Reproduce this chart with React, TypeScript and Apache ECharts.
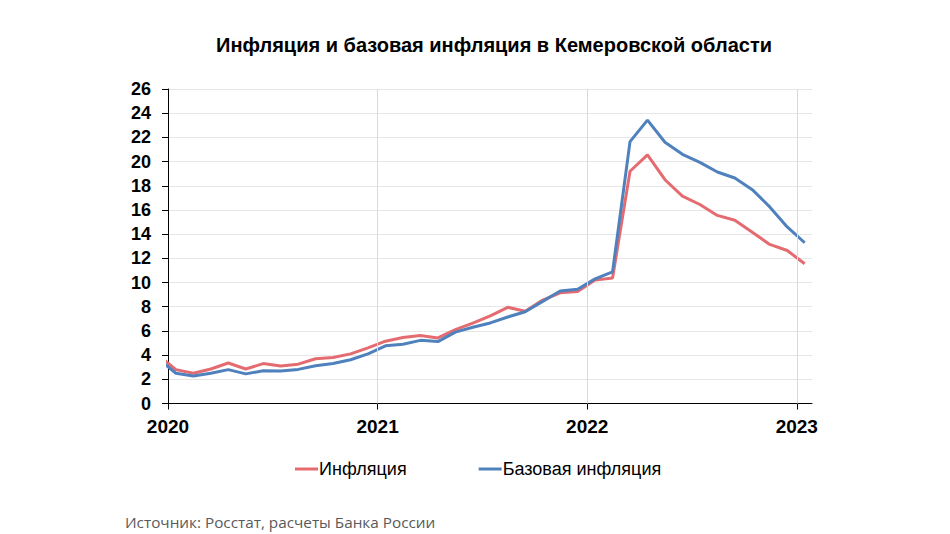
import React, { useEffect, useRef } from "react";
import * as echarts from "echarts";

// Monthly observations (year-month). Dec 2019 lies before the axis start and is clipped.
const months = [
  "2019-12",
  "2020-01", "2020-02", "2020-03", "2020-04", "2020-05", "2020-06",
  "2020-07", "2020-08", "2020-09", "2020-10", "2020-11", "2020-12",
  "2021-01", "2021-02", "2021-03", "2021-04", "2021-05", "2021-06",
  "2021-07", "2021-08", "2021-09", "2021-10", "2021-11", "2021-12",
  "2022-01", "2022-02", "2022-03", "2022-04", "2022-05", "2022-06",
  "2022-07", "2022-08", "2022-09", "2022-10", "2022-11", "2022-12",
  "2023-01",
];

const inflation = [
  4.0,
  2.8, 2.5, 2.85, 3.35, 2.85, 3.3, 3.1, 3.25, 3.7, 3.8, 4.1, 4.6,
  5.15, 5.45, 5.62, 5.42, 6.1, 6.65, 7.25, 7.95, 7.62, 8.55, 9.15, 9.25,
  10.2, 10.38, 19.2, 20.55, 18.5, 17.15, 16.45, 15.55, 15.15, 14.15, 13.15, 12.65,
  11.55,
];

const coreInflation = [
  3.7,
  2.5, 2.27, 2.5, 2.8, 2.45, 2.7, 2.68, 2.82, 3.12, 3.3, 3.62, 4.1,
  4.77, 4.9, 5.22, 5.12, 5.9, 6.3, 6.66, 7.15, 7.59, 8.44, 9.3, 9.45,
  10.3, 10.88, 21.65, 23.43, 21.6, 20.6, 19.93, 19.14, 18.64, 17.68, 16.25, 14.6,
  13.29,
];

const yearLabels = ["2020", "2021", "2022", "2023"];
const seriesNames = ["Инфляция", "Базовая инфляция"];
const titleText = "Инфляция и базовая инфляция в Кемеровской области";
const sourceText = "Источник: Росстат, расчеты Банка России";

// observations are dated mid-month (15th); axis unit = months since Jan 2020
const OBS_DAY = 15;
const monthPos = (s: string) => {
  const [y, m] = s.split("-").map(Number);
  return (y - 2020) * 12 + (m - 1) + (OBS_DAY - 1) / 31;
};

const RED = "#E46C70";
const BLUE = "#4F81BD";
const FONT = '"Liberation Sans", Arial, sans-serif';

export default function App() {
  const ref = useRef<HTMLDivElement>(null);

  useEffect(() => {
    document.body.style.margin = "0";
    const chart = echarts.init(ref.current!, null, { renderer: "svg" });
    const yearTicks = yearLabels.map((_, i) => i * 12);
    const toData = (vals: number[]) => months.map((m, i) => [monthPos(m), vals[i]]);

    chart.setOption({
      animation: false,
      backgroundColor: "#ffffff",
      textStyle: { fontFamily: FONT },
      grid: { left: 168, right: 138, top: 89, bottom: 130.5 },
      graphic: [
        {
          type: "text",
          x: 494,
          y: 45,
          style: {
            text: titleText,
            fill: "#000",
            fontFamily: '"Liberation Sans Narrow", "Liberation Sans", Arial, sans-serif',
            fontWeight: "bold",
            fontSize: 20,
            align: "center",
            verticalAlign: "middle",
          },
        },
        {
          type: "text",
          x: 125,
          y: 522,
          style: {
            text: sourceText,
            fill: "#595959",
            fontFamily: '"Open Sans", "Noto Sans", sans-serif',
            fontSize: 15.3,
            align: "left",
            verticalAlign: "middle",
          },
        },
      ],
      legend: {
        data: seriesNames,
        left: 295,
        top: 460,
        padding: 0,
        icon: "rect",
        itemWidth: 23,
        itemHeight: 3,
        itemGap: 72,
        textStyle: { fontSize: 18, color: "#000", fontFamily: FONT, padding: [0, 0, 0, -4] },
      },
      xAxis: {
        type: "value",
        min: 0,
        max: 36.87,
        interval: 12,
        axisLine: { show: true, lineStyle: { color: "#000", width: 1 } },
        axisTick: {
          show: true,
          inside: false,
          length: 6,
          customValues: yearTicks,
          lineStyle: { color: "#000" },
        },
        axisLabel: {
          customValues: yearTicks,
          margin: 13,
          fontSize: 19,
          fontWeight: "bold",
          color: "#000",
          fontFamily: FONT,
          formatter: (v: number) => {
            const i = Math.round(v / 12);
            return Math.abs(v - i * 12) < 1e-6 ? yearLabels[i] ?? "" : "";
          },
        },
        splitLine: { show: false },
      },
      yAxis: {
        type: "value",
        min: 0,
        max: 26,
        interval: 2,
        axisLine: { show: true, lineStyle: { color: "#000", width: 1 } },
        axisTick: { show: true, inside: false, length: 6, lineStyle: { color: "#000" } },
        axisLabel: {
          margin: 17,
          fontSize: 18,
          fontWeight: "bold",
          color: "#000",
          fontFamily: FONT,
        },
        splitLine: { show: true, lineStyle: { color: "#e6e6e6", width: 1 } },
      },
      series: [
        {
          name: "_grid",
          type: "line",
          data: [],
          z: 1,
          silent: true,
          markLine: {
            silent: true,
            symbol: ["none", "none"],
            label: { show: false },
            lineStyle: { color: "#d9d9d9", width: 1, type: "solid" },
            data: yearTicks.slice(1).map((t) => ({ xAxis: t })),
          },
        },
        {
          name: seriesNames[0],
          type: "line",
          z: 3,
          symbol: "none",
          clip: true,
          color: RED,
          lineStyle: { color: RED, width: 3 },
          data: toData(inflation),
        },
        {
          name: seriesNames[1],
          type: "line",
          z: 4,
          symbol: "none",
          clip: true,
          color: BLUE,
          lineStyle: { color: BLUE, width: 3 },
          data: toData(coreInflation),
        },
      ],
    });

    return () => chart.dispose();
  }, []);

  return <div ref={ref} style={{ width: 950, height: 534 }} />;
}
